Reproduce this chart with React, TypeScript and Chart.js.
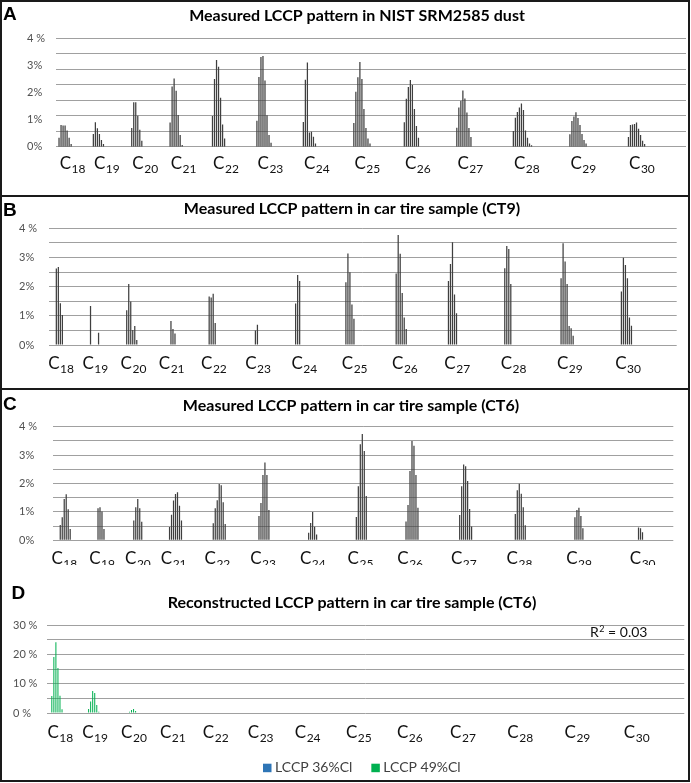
import React, { useEffect, useRef } from 'react';
import { Chart, registerables } from 'chart.js';
Chart.register(...registerables);

// ---------------- DATA ----------------
const chainLengths = [18, 19, 20, 21, 22, 23, 24, 25, 26, 27, 28, 29, 30];
// number of chlorine-congener slots on the category axis for each chain length
const slotsPerChain = [17, 19, 19, 21, 22, 23, 25, 25, 26, 28, 28, 29, 30];

// A: NIST SRM2585 dust (% of total), first congener slot per chain + values
const dustStart = [1, 1, 1, 1, 1, 1, 1, 1, 1, 1, 1, 1, 1];
const dustValues: (number | null)[][] = [
  [0.33, 0.8, 0.78, 0.78, 0.6, 0.33, 0.1],
  [0.47, 0.9, 0.68, 0.47, 0.25, 0.1],
  [0.69, 1.64, 1.64, 1.14, 0.63, 0.22],
  [0.89, 2.22, 2.52, 2.06, 1.17, 0.43, 0.06],
  [1.13, 2.5, 3.2, 2.95, 1.81, 0.82, 0.3],
  [0.96, 2.57, 3.31, 3.35, 2.44, 1.16, 0.43, 0.15],
  [0.91, 2.47, 3.11, 0.52, 0.55, 0.37, 0.12],
  [0.87, 2.03, 2.56, 3.13, 2.5, 1.39, 0.69, 0.3, 0.12],
  [0.9, 1.77, 2.2, 2.46, 2.28, 1.39, 0.76, 0.33],
  [0.7, 1.45, 1.69, 2.07, 1.78, 1.26, 0.69, 0.36],
  [0.58, 1.07, 1.28, 1.45, 1.59, 1.35, 0.6, 0.33, 0.12, 0.05],
  [0.46, 0.95, 1.11, 1.27, 1.06, 0.8, 0.47, 0.25, 0.12],
  [0.36, 0.8, 0.82, 0.84, 0.89, 0.66, 0.43, 0.22, 0.1],
];

// B: car tire sample CT9
const ct9Start = [3, 3, 2, 5, 3, 4, 1, 1, 1, 1, 1, 1, 2];
const ct9Values: (number | null)[][] = [
  [2.62, 2.67, 1.43, 1.03],
  [1.34, null, null, null, 0.42],
  [1.19, 2.09, 1.49, 0.51, 0.65, 0.17],
  [0.82, 0.55, 0.39],
  [1.66, 1.63, 1.76, 0.75],
  [0.5, 0.69],
  [1.42, 2.4, 2.19],
  [2.15, 3.14, 2.49, 1.39, 0.9],
  [2.45, 3.77, 3.13, 1.78, 0.94, 0.55],
  [2.19, 2.78, 3.52, 1.73, 1.09],
  [2.63, 3.39, 3.29, 2.09],
  [2.29, 3.49, 2.86, 2.09, 0.65, 0.57, 0.32],
  [1.83, 2.99, 2.74, 2.29, 0.94, 0.66],
];

// C: car tire sample CT6
const ct6Start = [3, 5, 4, 3, 4, 5, 7, 6, 6, 7, 7, 9, 12];
const ct6Values: (number | null)[][] = [
  [0.54, 0.81, 1.45, 1.62, 1.09, 0.4],
  [1.13, 1.16, 1.01, 0.4],
  [0.7, 1.16, 1.45, 1.13, 0.65],
  [0.47, 0.9, 1.4, 1.63, 1.69, 1.22, 0.7],
  [0.6, 1.13, 1.41, 1.98, 1.94, 1.34, 0.57],
  [0.86, 1.31, 2.3, 2.74, 2.3, 1.07],
  [0.27, 0.61, 1.0, 0.48, 0.2],
  [0.82, 1.9, 3.38, 3.74, 3.14, 1.56],
  [0.66, 1.24, 2.44, 3.5, 3.33, 2.3, 1.15],
  [0.89, 1.9, 2.67, 2.61, 2.09, 1.1, 0.49],
  [0.93, 1.76, 1.99, 1.64, 1.16, 0.53],
  [0.81, 1.07, 1.15, 0.86, 0.42],
  [0.45, 0.42, 0.28],
];

// D: reconstructed pattern for CT6
const reconStart = [2, 3, 4];
const recon49Values: (number | null)[][] = [
  [5.8, 19.1, 24.1, 15.3, 5.9, 1.25],
  [1.4, 3.9, 7.5, 6.8, 2.7, 0.45],
  [0.45, 1.0, 1.4, 0.7],
];
const recon36Values: (number | null)[][] = [
  [0, 0, 0, 0, 0, 0],
  [0, 0, 0, 0, 0, 0],
  [0, 0, 0, 0],
];
const seriesLabels = ['LCCP 36%Cl', 'LCCP 49%Cl'];
const rSquaredText = '0.03';

const pctTickValues = [0, 1, 2, 3, 4];
const pctTickLabels = ['0%', '1%', '2%', '3%', '4 %'];
const reconTickValues = [0, 10, 20, 30];
const reconTickLabels = ['0 %', '10 %', '20 %', '30 %'];

const titles = [
  'Measured LCCP pattern in NIST SRM2585 dust',
  'Measured LCCP pattern in car tire sample (CT9)',
  'Measured LCCP pattern in car tire sample (CT6)',
  'Reconstructed LCCP pattern in car tire sample (CT6)',
];

// ---------------- BUILD ----------------
const groupStart: number[] = [];
let acc = 0;
slotsPerChain.forEach((s) => {
  groupStart.push(acc);
  acc += s;
});
const totalSlots = acc;
const categories: string[] = [];
chainLengths.forEach((n, i) => {
  for (let k = 0; k < slotsPerChain[i]; k++) categories.push(`C${n}-${k}`);
});

function buildSeries(starts: number[], values: (number | null)[][]) {
  const arr: (number | null)[] = new Array(totalSlots).fill(null);
  values.forEach((row, i) =>
    row.forEach((v, j) => {
      if (v !== null) arr[groupStart[i] + starts[i] + j] = v;
    })
  );
  return arr;
}

const PAGE_W = 691;
const GRID = '#a0a0a0';
const BAR = '#3f3f3f';
const FONT = 'Lato, "Open Sans", sans-serif';

type PanelCfg = {
  top: number;
  height: number;
  plot: { left: number; right: number; top: number; bottom: number };
  tickX: number;
  yMax: number;
  yStep: number;
  tickValues: number[];
  tickLabels: string[];
  gridDivisions?: number;
  datasets: { label: string; data: (number | null)[]; color: string }[];
  barPct: number;
  title: string;
  titleX: number;
  titleBaseline: number;
  letter: string;
  letterX: number;
  letterBaseline: number;
  xLabelBaseline: number;
  xLabelOffset: number;
  labelAnchor?: number[];
  r2?: { x: number; baseline: number };
  legend?: { x: number; baseline: number };
};

const panels: PanelCfg[] = [
  {
    top: 0, height: 196,
    plot: { left: 56, right: 686, top: 38.3, bottom: 146.7 },
    tickX: 27, yMax: 4, yStep: 1, tickValues: pctTickValues, tickLabels: pctTickLabels,
    gridDivisions: 7,
    datasets: [{ label: 'NIST SRM2585', data: buildSeries(dustStart, dustValues), color: BAR }],
    barPct: 0.62,
    title: titles[0], titleX: 357, titleBaseline: 20.7,
    letter: 'A', letterX: 3, letterBaseline: 20,
    xLabelBaseline: 169.3, xLabelOffset: 1.8,
  },
  {
    top: 196, height: 192,
    plot: { left: 49.3, right: 676.7, top: 228.3, bottom: 345 },
    tickX: 19, yMax: 4, yStep: 0.5, tickValues: pctTickValues, tickLabels: pctTickLabels,
    datasets: [{ label: 'CT9', data: buildSeries(ct9Start, ct9Values), color: BAR }],
    barPct: 0.62,
    title: titles[1], titleX: 352, titleBaseline: 214,
    letter: 'B', letterX: 3, letterBaseline: 216,
    xLabelBaseline: 369, xLabelOffset: -0.55,
  },
  {
    top: 388, height: 177,
    plot: { left: 53.3, right: 673.3, top: 426.7, bottom: 540.3 },
    tickX: 19, yMax: 4, yStep: 0.5, tickValues: pctTickValues, tickLabels: pctTickLabels,
    datasets: [{ label: 'CT6', data: buildSeries(ct6Start, ct6Values), color: BAR }],
    barPct: 0.62,
    title: titles[2], titleX: 351, titleBaseline: 410.7,
    letter: 'C', letterX: 3, letterBaseline: 410,
    xLabelBaseline: 564, xLabelOffset: -3.9, labelAnchor: ct6Start,
  },
  {
    top: 565, height: 218,
    plot: { left: 46.7, right: 684.3, top: 625, bottom: 713 },
    tickX: 13, yMax: 30, yStep: 5, tickValues: reconTickValues, tickLabels: reconTickLabels,
    datasets: [
      { label: seriesLabels[0], data: buildSeries(reconStart, recon36Values), color: '#2e75b6' },
      { label: seriesLabels[1], data: buildSeries(reconStart, recon49Values), color: '#00b050' },
    ],
    barPct: 0.5,
    title: titles[3], titleX: 352, titleBaseline: 608.3,
    letter: 'D', letterX: 11.5, letterBaseline: 599,
    xLabelBaseline: 738, xLabelOffset: 0.4,
    r2: { x: 590, baseline: 637.3 },
    legend: { x: 263, baseline: 771.7 },
  },
];

function Panel({ cfg }: { cfg: PanelCfg }) {
  const ref = useRef<HTMLCanvasElement>(null);
  useEffect(() => {
    const canvas = ref.current;
    if (!canvas) return;
    const p = cfg.plot;
    const oy = cfg.top;

    const decor = {
      id: 'decor',
      afterDraw(chart: any) {
        const ctx: CanvasRenderingContext2D = chart.ctx;
        const xs = chart.scales.x;
        ctx.save();
        // title
        ctx.fillStyle = '#000';
        ctx.textBaseline = 'alphabetic';
        ctx.textAlign = 'center';
        ctx.font = `bold 16px ${FONT}`;
        ctx.fillText(cfg.title, cfg.titleX, cfg.titleBaseline - oy);
        // panel letter
        ctx.textAlign = 'left';
        ctx.font = 'bold 19px "Liberation Sans", Arial, sans-serif';
        ctx.fillText(cfg.letter, cfg.letterX, cfg.letterBaseline - oy);
        // chain-length labels C with subscript
        const w = xs.getPixelForValue(1) - xs.getPixelForValue(0);
        const left0 = xs.getPixelForValue(0) - w / 2;
        chainLengths.forEach((n, i) => {
          const anchor = groupStart[i] + (cfg.labelAnchor ? cfg.labelAnchor[i] : 0) + cfg.xLabelOffset;
          const x = left0 + anchor * w;
          const yb = cfg.xLabelBaseline - oy;
          ctx.fillStyle = '#111';
          ctx.font = `17px ${FONT}`;
          ctx.fillText('C', x, yb);
          const cw = ctx.measureText('C').width;
          ctx.font = `12px ${FONT}`;
          ctx.fillText(String(n), x + cw + 0.5, yb + 4);
        });
        // R squared
        if (cfg.r2) {
          const yb = cfg.r2.baseline - oy;
          ctx.fillStyle = '#111';
          ctx.font = `14px ${FONT}`;
          ctx.fillText('R', cfg.r2.x, yb);
          let x = cfg.r2.x + ctx.measureText('R').width + 0.5;
          ctx.font = `9px ${FONT}`;
          ctx.fillText('2', x, yb - 5);
          x += ctx.measureText('2').width;
          ctx.font = `14px ${FONT}`;
          ctx.fillText(' = ' + rSquaredText, x, yb);
        }
        // legend
        if (cfg.legend) {
          let x = cfg.legend.x;
          const yb = cfg.legend.baseline - oy;
          ctx.font = `14px ${FONT}`;
          chart.data.datasets.forEach((ds: any) => {
            ctx.fillStyle = ds.backgroundColor;
            ctx.fillRect(x, yb - 8, 8.5, 8.5);
            x += 12;
            ctx.fillStyle = '#404040';
            ctx.fillText(ds.label, x, yb);
            x += ctx.measureText(ds.label).width + 19;
          });
        }
        ctx.restore();
      },
    };

    const scales: any = {
      x: { type: 'category', display: false, offset: true, grid: { display: false } },
      y: {
        position: 'left',
        min: 0,
        max: cfg.yMax,
        ticks: {
          stepSize: cfg.yStep,
          autoSkip: false,
          crossAlign: 'far',
          padding: 0,
          color: '#505050',
          font: { family: FONT, size: 11 },
          callback: (v: any) => {
            const i = cfg.tickValues.indexOf(Number(v));
            return i >= 0 ? cfg.tickLabels[i] : '';
          },
        },
        grid: { display: !cfg.gridDivisions, color: GRID, drawTicks: false, lineWidth: 1 },
        border: { display: false },
        afterFit: (s: any) => {
          s.width = p.left - cfg.tickX;
        },
      },
    };
    if (cfg.gridDivisions) {
      scales.yGrid = {
        position: 'right',
        min: 0,
        max: cfg.gridDivisions,
        ticks: { display: false, stepSize: 1 },
        grid: { color: GRID, drawTicks: false, lineWidth: 1 },
        border: { display: false },
        afterFit: (s: any) => {
          s.width = 0;
        },
      };
    }

    const chart = new Chart(canvas, {
      type: 'bar',
      data: {
        labels: categories,
        datasets: cfg.datasets.map((d) => ({
          label: d.label,
          data: d.data,
          backgroundColor: d.color,
          borderWidth: 0,
          barPercentage: cfg.barPct,
          categoryPercentage: 1,
          grouped: false,
          yAxisID: 'y',
        })),
      },
      options: {
        responsive: false,
        animation: false,
        devicePixelRatio: 1,
        events: [],
        layout: {
          padding: {
            left: cfg.tickX,
            right: PAGE_W - p.right,
            top: p.top - oy,
            bottom: oy + cfg.height - p.bottom,
          },
        },
        plugins: { legend: { display: false }, tooltip: { enabled: false }, title: { display: false } },
        scales,
      } as any,
      plugins: [decor],
    });
    return () => chart.destroy();
  }, [cfg]);

  return (
    <canvas
      ref={ref}
      width={PAGE_W}
      height={cfg.height}
      style={{ position: 'absolute', left: 0, top: cfg.top, width: PAGE_W, height: cfg.height }}
    />
  );
}

const line = (style: React.CSSProperties) => (
  <div style={{ position: 'absolute', background: '#1a1a1a', ...style }} />
);

export default function App() {
  return (
    <div style={{ position: 'absolute', left: 0, top: 0, width: PAGE_W, height: 783, background: '#fff', overflow: 'hidden' }}>
      {panels.map((cfg, i) => (
        <Panel key={i} cfg={cfg} />
      ))}
      {line({ left: 0, top: 0, width: 2, height: 782 })}
      {line({ left: 687.5, top: 0, width: 2, height: 782 })}
      {line({ left: 0, top: 0, width: 689, height: 2 })}
      {line({ left: 0, top: 195, width: 689, height: 2 })}
      {line({ left: 0, top: 387.5, width: 689, height: 2 })}
      {line({ left: 0, top: 780, width: 689, height: 2 })}
    </div>
  );
}
